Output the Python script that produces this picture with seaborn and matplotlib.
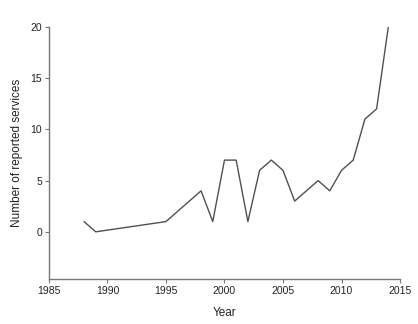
import matplotlib
matplotlib.use("Agg")
import matplotlib.pyplot as plt
import seaborn as sns
import pandas as pd

years = [1988, 1989, 1995, 1998, 1999, 2000, 2001, 2002, 2003, 2004, 2005,
         2006, 2008, 2009, 2010, 2011, 2012, 2013, 2014]
services = [1, 0, 1, 4, 1, 7, 7, 1, 6, 7, 6, 3, 5, 4, 6, 7, 11, 12, 20]
x_ticks = [1985, 1990, 1995, 2000, 2005, 2010, 2015]
y_ticks = [0, 5, 10, 15, 20]

sns.set_style("ticks")
plt.rcParams['font.family'] = ['Liberation Sans', 'DejaVu Sans']

df = pd.DataFrame({"Year": years, "Services": services})

fig = plt.figure(figsize=(4.18, 3.24), dpi=100)
ax = fig.add_axes([0.117, 0.139, 0.84, 0.778])
sns.lineplot(data=df, x="Year", y="Services", ax=ax, color="#505050", linewidth=1.0)

ax.set_xlim(1985, 2015)
ax.set_ylim(-4.6, 20)
ax.set_xticks(x_ticks)
ax.set_yticks(y_ticks)
ax.tick_params(labelsize=7.5, colors="#222222", length=3, width=0.8, color="#777777", pad=2)
ax.set_xlabel("Year", fontsize=8.5, color="#222222", labelpad=8)
ax.set_ylabel("Number of reported services", fontsize=8.5, color="#222222", labelpad=5)
for s in ["top", "right"]:
    ax.spines[s].set_visible(False)
for s in ["left", "bottom"]:
    ax.spines[s].set_color("#777777")
    ax.spines[s].set_linewidth(1.0)
ax.spines["left"].set_bounds(-4.6, 20)

fig.savefig("out.png", dpi=100)
